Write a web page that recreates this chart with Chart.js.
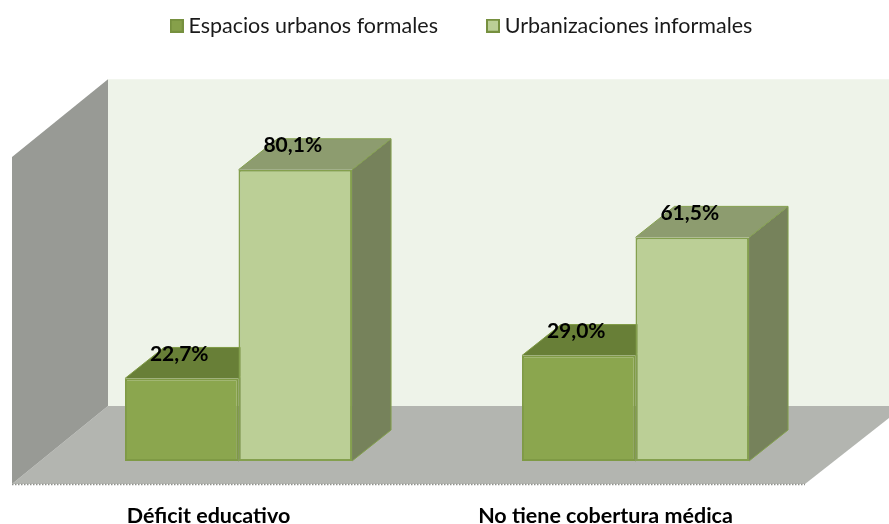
<!DOCTYPE html>
<html><head><meta charset="utf-8">
<style>html,body{margin:0;padding:0;background:#fff}#w{width:889px;height:524px;position:relative}</style>
<script src="https://cdn.jsdelivr.net/npm/chart.js@4/dist/chart.umd.min.js"></script>
</head><body><div id="w"><canvas id="c" width="889" height="524"></canvas></div>
<script>
const categories = ['Déficit educativo', 'No tiene cobertura médica'];
const seriesNames = ['Espacios urbanos formales', 'Urbanizaciones informales'];
const formalValues = [22.7, 29.0];
const informalValues = [80.1, 61.5];

const FONT = 'Lato, Carlito, "Open Sans", sans-serif';
const DX = 39, DY = 31;           // depth of the bars
const WALL_TOP_VALUE = 105;       // value level of the top of the back wall
const faces = [
  {front:'#8BA64E', border:'#7F9A45', top:'#687F37', side:'#5E7232', swatch:'#86A04A', swatchB:'#76903F'},
  {front:'#BBCF96', border:'#84A04E', top:'#8D9C6F', side:'#76825B', swatch:'#BBCF96', swatchB:'#76903F'}
];
function swatch(f){
  const s=document.createElement('canvas'); s.width=14; s.height=14;
  const g=s.getContext('2d');
  g.fillStyle=f.swatchB; g.fillRect(0,0,14,14);
  g.fillStyle=f.swatch; g.fillRect(2,2,10,10);
  return s;
}
function poly(ctx,pts,fill){
  ctx.beginPath(); pts.forEach((p,i)=>i?ctx.lineTo(p[0],p[1]):ctx.moveTo(p[0],p[1]));
  ctx.closePath(); ctx.fillStyle=fill; ctx.fill();
}
const room = {
  id:'room',
  beforeDatasetsDraw(chart){
    const {ctx,scales:{y}}=chart;
    const y0=y.getPixelForValue(0), wallTop=y.getPixelForValue(WALL_TOP_VALUE);
    const backY=y0-55, frontY=y0+23, wallL=108, frontL=12, frontR=805;
    ctx.save();
    poly(ctx,[[wallL,wallTop],[889,wallTop],[889,backY],[wallL,backY]],'#EEF3E9');
    poly(ctx,[[frontL,frontY],[wallL,backY],[889,backY],[889,418],[frontR,frontY]],'#B3B5B0');
    poly(ctx,[[frontL,157],[wallL,wallTop],[wallL,backY],[frontL,frontY]],'#989A95');
    ctx.strokeStyle='#8E908B'; ctx.lineWidth=1.5; ctx.setLineDash([1.5,1.5]);
    ctx.beginPath(); ctx.moveTo(frontL,frontY+.5); ctx.lineTo(frontR,frontY+.5); ctx.stroke();
    ctx.setLineDash([]);
    chart.data.datasets.forEach((d,i)=>{
      const f=faces[i], bars=chart.getDatasetMeta(i).data;
      bars.forEach(b=>{
        const L=b.x-b.width/2,R=b.x+b.width/2,T=b.y,B=b.base;
        poly(ctx,[[R,T],[R+DX,T-DY],[R+DX,B-DY],[R,B]],f.side);
        poly(ctx,[[L,T],[R,T],[R+DX,T-DY],[L+DX,T-DY]],f.top);
        ctx.strokeStyle=f.border; ctx.lineWidth=1;
        ctx.beginPath(); ctx.moveTo(L,T); ctx.lineTo(L+DX,T-DY); ctx.lineTo(R+DX,T-DY);
        ctx.lineTo(R+DX,B-DY); ctx.lineTo(R,B); ctx.moveTo(R,T); ctx.lineTo(R+DX,T-DY); ctx.stroke();
      });
    });
    ctx.restore();
  },
  afterDatasetsDraw(chart){
    const {ctx}=chart;
    ctx.save();
    ctx.font='bold 21px '+FONT; ctx.fillStyle='#000'; ctx.textAlign='center'; ctx.textBaseline='middle';
    chart.data.datasets.forEach((d,i)=>{
      chart.getDatasetMeta(i).data.forEach((b,j)=>{
        ctx.fillText(d.data[j].toFixed(1).replace('.',',')+'%', b.x-2.5, b.y-24.5);
      });
    });
    ctx.restore();
  }
};
new Chart(document.getElementById('c'),{
  type:'bar',
  data:{labels:categories,datasets:[
    {label:seriesNames[0],data:formalValues,backgroundColor:faces[0].front,borderColor:faces[0].border,borderWidth:2,borderSkipped:false},
    {label:seriesNames[1],data:informalValues,backgroundColor:faces[1].front,borderColor:faces[1].border,borderWidth:2,borderSkipped:false}
  ]},
  plugins:[room],
  options:{
    responsive:false,animation:false,
    layout:{padding:{left:39,right:0,top:-39,bottom:0}},
    datasets:{bar:{categoryPercentage:0.572,barPercentage:1}},
    plugins:{
      tooltip:{enabled:false},
      legend:{position:'top',
        labels:{usePointStyle:true,pointStyleWidth:2,boxHeight:2,padding:54,color:'#1a1a1a',font:{family:FONT,size:21.5},
          generateLabels:c=>c.data.datasets.map((d,i)=>({text:d.label,datasetIndex:i,pointStyle:swatch(faces[i]),fontColor:'#1a1a1a',lineWidth:0}))}}
    },
    scales:{
      x:{grid:{display:false},border:{display:false},afterFit:s=>{s.height=63;},
        ticks:{color:'#000',font:{family:FONT,size:21.5,weight:'bold'},padding:34,labelOffset:-30,maxRotation:0,autoSkip:false}},
      y:{min:0,max:114,afterFit:s=>{s.width=1;},grid:{display:false},border:{display:false},ticks:{display:false}},
      y2:{position:'right',min:0,max:1,afterFit:s=>{s.width=55;},grid:{display:false},border:{display:false},ticks:{display:false}}
    }
  }
});
</script></body></html>
